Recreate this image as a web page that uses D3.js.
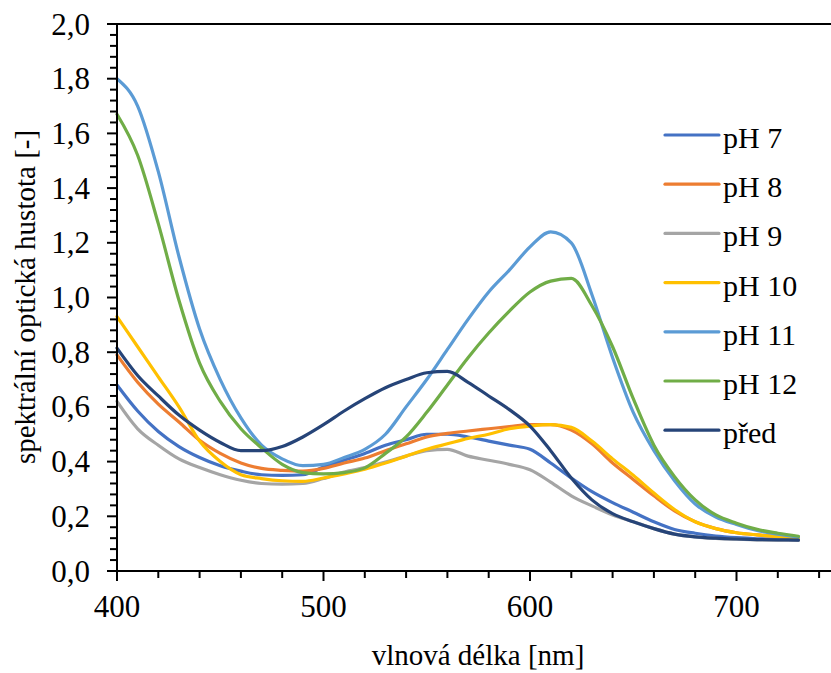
<!DOCTYPE html>
<html><head><meta charset="utf-8">
<script src="https://cdn.jsdelivr.net/npm/d3@7"></script>
<style>
svg text, text { font-family: "Liberation Serif" !important; }
</style>
</head><body style="margin:0">
<svg id="c" width="831" height="673" style="display:block"></svg>
<script>
const wavelengths = [400,410,420,430,440,450,460,470,480,490,500,510,520,530,540,550,560,570,580,590,600,610,620,630,640,650,660,670,680,690,700,710,720,730];
const ph7  = [0.68,0.585,0.51,0.455,0.415,0.385,0.365,0.352,0.35,0.352,0.38,0.405,0.43,0.46,0.48,0.50,0.50,0.49,0.475,0.46,0.445,0.395,0.34,0.29,0.25,0.215,0.18,0.152,0.138,0.128,0.122,0.118,0.116,0.114];
const ph8  = [0.79,0.69,0.61,0.545,0.478,0.43,0.395,0.375,0.368,0.365,0.375,0.395,0.413,0.44,0.465,0.49,0.503,0.512,0.52,0.528,0.535,0.535,0.515,0.465,0.395,0.335,0.275,0.22,0.18,0.155,0.14,0.132,0.126,0.121];
const ph9  = [0.62,0.52,0.46,0.41,0.378,0.352,0.332,0.32,0.318,0.32,0.338,0.362,0.378,0.398,0.42,0.44,0.445,0.42,0.405,0.39,0.37,0.325,0.275,0.238,0.205,0.18,0.155,0.135,0.125,0.119,0.116,0.114,0.113,0.112];
const ph10 = [0.93,0.82,0.71,0.60,0.475,0.40,0.352,0.338,0.33,0.328,0.34,0.355,0.372,0.395,0.42,0.445,0.465,0.485,0.50,0.52,0.53,0.535,0.525,0.475,0.41,0.35,0.285,0.225,0.18,0.155,0.14,0.132,0.126,0.121];
const ph11 = [1.80,1.70,1.46,1.15,0.885,0.70,0.56,0.46,0.41,0.385,0.39,0.415,0.445,0.50,0.60,0.70,0.81,0.92,1.02,1.10,1.185,1.24,1.20,1.01,0.78,0.58,0.44,0.33,0.245,0.197,0.17,0.148,0.135,0.124];
const ph12 = [1.67,1.52,1.27,0.99,0.76,0.62,0.52,0.45,0.39,0.36,0.355,0.36,0.377,0.43,0.49,0.58,0.68,0.78,0.87,0.95,1.02,1.06,1.07,0.97,0.82,0.63,0.46,0.345,0.26,0.205,0.175,0.152,0.138,0.127];
const pred = [0.815,0.715,0.64,0.57,0.515,0.47,0.44,0.44,0.455,0.49,0.535,0.585,0.63,0.67,0.70,0.725,0.73,0.69,0.64,0.59,0.53,0.44,0.34,0.26,0.21,0.18,0.155,0.135,0.125,0.12,0.117,0.115,0.114,0.113];

const seriesNames = ["pH 7","pH 8","pH 9","pH 10","pH 11","pH 12","před"];
const seriesValues = [ph7,ph8,ph9,ph10,ph11,ph12,pred];
const seriesColors = ["#4472C4","#ED7D31","#A5A5A5","#FFC000","#5B9BD5","#70AD47","#264478"];

const yMajorTicks = [0,0.2,0.4,0.6,0.8,1.0,1.2,1.4,1.6,1.8,2.0];
const xMajorTicks = [400,500,600,700];
const xLabel = "vlnová délka [nm]";
const yLabel = "spektrální optická hustota [-]";

const svg = d3.select("#c");
const x = d3.scaleLinear().domain([400,750]).range([117,117+350*2.065]);
const y = d3.scaleLinear().domain([0,2]).range([571,24]);

function txt(sel, size){
  return sel.style("font-family",'"Liberation Serif"',"important").style("font-size",size+"px");
}

svg.append("line").attr("x1",x(400)).attr("x2",x(750)).attr("y1",y(2)).attr("y2",y(2))
  .attr("stroke","#000").attr("stroke-width",2);

const line = d3.line().x((d,i)=>x(wavelengths[i])).y(d=>y(d)).curve(d3.curveMonotoneX);
seriesValues.forEach((vals,k)=>{
  svg.append("path").attr("d",line(vals)).attr("fill","none")
    .attr("stroke",seriesColors[k]).attr("stroke-width",3.2).attr("stroke-linejoin","round").attr("stroke-linecap","round");
});

const yMinor = d3.range(0,2.0001,0.04).filter(v=>!yMajorTicks.some(t=>Math.abs(t-v)<1e-6));
const xMinor = d3.range(400,751,20).filter(v=>v%100!==0);
svg.append("line").attr("x1",x(400)).attr("x2",x(400)).attr("y1",y(0)+1).attr("y2",y(2)-1).attr("stroke","#000").attr("stroke-width",2);
yMajorTicks.forEach(d=>svg.append("line").attr("x1",x(400)-10).attr("x2",x(400)).attr("y1",y(d)).attr("y2",y(d)).attr("stroke","#000").attr("stroke-width",2));
yMinor.forEach(d=>svg.append("line").attr("x1",x(400)-7).attr("x2",x(400)).attr("y1",y(d)).attr("y2",y(d)).attr("stroke","#000").attr("stroke-width",2));
yMajorTicks.forEach(d=>{
  txt(svg.append("text").attr("x",90).attr("y",y(d)+10.5).attr("text-anchor","end"),31).text(d.toFixed(1).replace(".",","));
});

svg.append("line").attr("x1",x(400)-1).attr("x2",x(750)).attr("y1",y(0)).attr("y2",y(0)).attr("stroke","#000").attr("stroke-width",2);
xMajorTicks.forEach(d=>svg.append("line").attr("x1",x(d)).attr("x2",x(d)).attr("y1",y(0)).attr("y2",y(0)+10).attr("stroke","#000").attr("stroke-width",2));
xMinor.forEach(d=>svg.append("line").attr("x1",x(d)).attr("x2",x(d)).attr("y1",y(0)).attr("y2",y(0)+7).attr("stroke","#000").attr("stroke-width",2));
xMajorTicks.forEach(d=>{
  txt(svg.append("text").attr("x",x(d)).attr("y",617).attr("text-anchor","middle"),31).text(d);
});

txt(svg.append("text").attr("x",478).attr("y",665).attr("text-anchor","middle"),29).text(xLabel);
txt(svg.append("text").attr("transform","translate(35,297) rotate(-90)").attr("text-anchor","middle"),29).text(yLabel);

seriesNames.forEach((n,k)=>{
  const ly = 135 + k*49.2;
  svg.append("line").attr("x1",665).attr("x2",719).attr("y1",ly).attr("y2",ly)
    .attr("stroke",seriesColors[k]).attr("stroke-width",3.2).attr("stroke-linecap","round");
  txt(svg.append("text").attr("x",723).attr("y",ly+13),30).text(n);
});
</script>
</body></html>
